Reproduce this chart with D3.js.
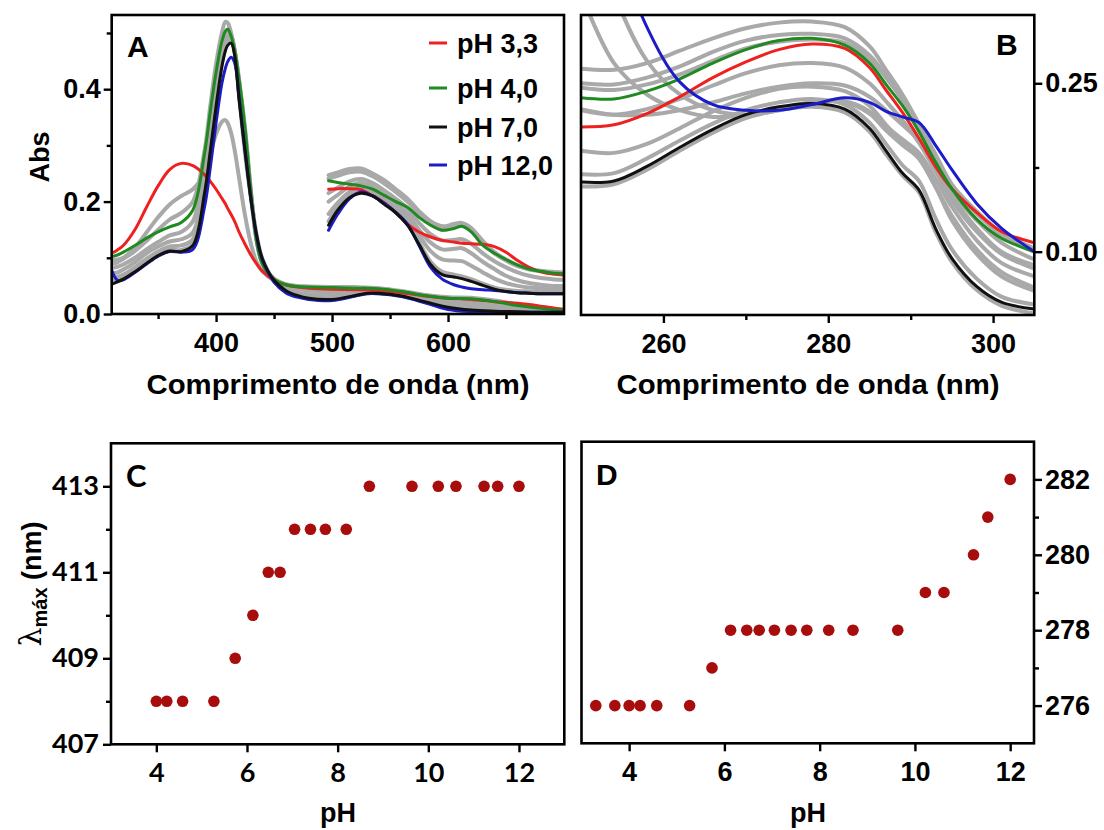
<!DOCTYPE html>
<html><head><meta charset="utf-8">
<script src="https://cdn.jsdelivr.net/npm/d3@7"></script>
<style>body{margin:0;background:#fff} svg{display:block}</style>
</head><body>
<svg id="chart" width="1104" height="830"></svg>
<script>
// ---------- DATA ----------
// Panel A: wavelengths (nm) and absorbance
const wlA = [310,315,320,330,340,350,360,370,380,390,395,400,405,408,410,413,416,420,425,430,435,440,450,460,470,480,500,520,530,540,560,580,600,620,640,660,680,700];
const absA_pH33 = [.108,.114,.122,.150,.190,.228,.257,.268,.264,.248,.236,.222,.206,.196,.188,.177,.165,.145,.124,.105,.089,.076,.060,.052,.048,.046,.044,.043,.043,.042,.038,.032,.028,.026,.022,.019,.014,.008];
const absA_pH40 = [.102,.105,.110,.122,.135,.146,.155,.163,.185,.285,.360,.430,.485,.503,.507,.494,.470,.415,.330,.220,.128,.088,.062,.052,.049,.048,.047,.046,.046,.045,.040,.033,.028,.027,.022,.015,.010,.006];
const absA_pH70 = [.053,.057,.062,.075,.090,.104,.112,.111,.122,.215,.290,.370,.440,.468,.478,.482,.460,.378,.290,.205,.140,.098,.060,.042,.033,.028,.026,.033,.037,.037,.032,.022,.012,.007,.005,.004,.003,.003];
const absA_pH120 = [.078,.060,.061,.074,.089,.103,.111,.110,.115,.190,.260,.340,.410,.437,.449,.457,.447,.382,.290,.205,.138,.096,.057,.038,.030,.026,.024,.032,.036,.036,.031,.020,.008,.004,.003,.003,.003,.003];
const absA_gray = [
  [.095,.097,.100,.118,.145,.172,.195,.210,.222,.250,.285,.320,.342,.345,.340,.322,.292,.240,.175,.125,.092,.076,.060,.052,.049,.048,.046,.046,.046,.045,.040,.033,.029,.027,.022,.016,.011,.007],
  [.090,.092,.098,.112,.130,.150,.168,.180,.200,.290,.370,.445,.500,.520,.518,.500,.470,.415,.330,.220,.130,.090,.063,.053,.050,.049,.048,.048,.047,.046,.041,.034,.030,.029,.024,.017,.011,.007],
  [.082,.084,.088,.100,.115,.128,.140,.146,.165,.260,.340,.420,.480,.500,.504,.495,.468,.412,.325,.218,.130,.090,.060,.048,.044,.042,.040,.042,.043,.042,.037,.028,.022,.020,.016,.012,.009,.006],
  [.072,.074,.079,.092,.108,.120,.129,.133,.145,.240,.320,.400,.465,.490,.497,.493,.468,.410,.320,.215,.132,.092,.058,.044,.038,.035,.034,.038,.040,.040,.035,.025,.017,.014,.011,.009,.007,.005],
  [.063,.066,.070,.083,.098,.111,.120,.122,.133,.228,.305,.385,.455,.480,.489,.490,.466,.395,.295,.210,.138,.095,.058,.042,.035,.031,.030,.035,.038,.038,.033,.023,.014,.010,.008,.006,.005,.004],
  [.056,.059,.064,.077,.092,.106,.114,.114,.124,.218,.294,.375,.446,.475,.485,.490,.468,.385,.285,.207,.140,.098,.060,.042,.033,.028,.026,.033,.037,.037,.032,.022,.012,.007,.005,.004,.003,.003]
];
// Panel A inset (magnified visible band)
const wlI = [497,505,515,525,535,545,555,565,575,585,595,605,612,620,630,640,650,660,670,680,690,700];
const absI_pH33 = [.222,.223,.223,.221,.210,.198,.180,.160,.146,.137,.131,.128,.126,.125,.124,.120,.110,.095,.083,.075,.071,.069];
const absI_pH40 = [.237,.234,.231,.228,.222,.211,.200,.190,.172,.158,.149,.152,.156,.146,.122,.108,.097,.087,.080,.076,.073,.072];
const absI_pH70 = [.158,.185,.207,.215,.210,.195,.180,.158,.124,.088,.070,.066,.063,.058,.051,.044,.040,.038,.037,.036,.036,.036];
const absI_pH120 = [.149,.178,.205,.217,.210,.197,.181,.160,.122,.083,.062,.052,.048,.045,.043,.042,.040,.038,.037,.036,.036,.036];
const absI_gray = [
  [.247,.252,.258,.259,.250,.238,.222,.205,.183,.165,.156,.160,.162,.153,.130,.110,.097,.087,.080,.077,.075,.074],
  [.241,.246,.252,.253,.245,.232,.217,.200,.178,.160,.150,.154,.157,.148,.126,.108,.095,.085,.079,.076,.074,.073],
  [.215,.225,.236,.240,.233,.220,.205,.188,.162,.142,.131,.132,.133,.125,.108,.094,.083,.074,.068,.064,.062,.061],
  [.200,.212,.227,.233,.226,.212,.197,.178,.150,.127,.115,.116,.117,.108,.093,.080,.068,.060,.055,.052,.050,.050],
  [.178,.198,.217,.226,.220,.205,.190,.170,.140,.112,.097,.095,.094,.086,.074,.063,.055,.050,.047,.046,.045,.045],
  [.165,.190,.210,.218,.213,.198,.183,.163,.128,.093,.075,.070,.067,.062,.054,.047,.043,.041,.040,.039,.039,.039]
];
// Panel B: UV band
const wlB = [250,254,258,262,266,270,274,278,282,285,287,289,291,293,295,298,301,305];
const absB_pH33 = [.211,.213,.223,.238,.255,.269,.280,.285,.281,.264,.244,.224,.201,.176,.156,.135,.118,.108];
const absB_pH40 = [.237,.236,.243,.254,.268,.280,.288,.290,.284,.268,.249,.230,.207,.180,.156,.129,.112,.100];
const absB_pH70 = [.162,.163,.176,.193,.209,.222,.229,.232,.227,.210,.190,.170,.155,.121,.094,.069,.055,.049];
const absB_pH120 = [.500,.380,.300,.251,.231,.226,.226,.231,.237,.233,.225,.220,.215,.195,.173,.143,.121,.100];
const absB_gray = [
  [.263,.262,.268,.279,.290,.299,.304,.305,.300,.283,.262,.240,.214,.187,.160,.136,.117,.103],
  [.250,.249,.255,.265,.278,.288,.293,.294,.290,.275,.257,.236,.210,.183,.158,.134,.115,.100],
  [.246,.244,.249,.258,.270,.281,.287,.289,.286,.272,.255,.235,.208,.180,.154,.128,.108,.093],
  [.226,.222,.227,.236,.248,.259,.266,.268,.264,.250,.234,.217,.197,.172,.146,.118,.098,.085],
  [.330,.268,.240,.226,.220,.222,.227,.233,.234,.225,.212,.200,.188,.165,.140,.110,.090,.078],
  [.420,.330,.270,.240,.226,.222,.226,.233,.233,.223,.208,.195,.183,.158,.132,.102,.082,.068],
  [.190,.188,.196,.210,.225,.237,.245,.247,.243,.230,.213,.197,.183,.158,.128,.098,.078,.065],
  [.169,.170,.183,.199,.214,.226,.233,.236,.231,.215,.196,.177,.163,.130,.102,.076,.060,.053],
  [.158,.160,.173,.190,.206,.219,.226,.229,.224,.207,.187,.168,.153,.118,.091,.066,.052,.045],
  [.227,.222,.222,.226,.233,.241,.247,.250,.248,.238,.226,.213,.199,.176,.150,.121,.100,.088]
];
// Panel C and D: lambda max vs pH
const pHC = [4.0,4.23,4.58,5.27,5.74,6.13,6.47,6.73,7.05,7.40,7.73,8.19,8.70,9.64,10.22,10.61,11.23,11.53,12.0];
const lamC = [408,408,408,408,409,410,411,411,412,412,412,412,413,413,413,413,413,413,413];
const pHD = [3.3,3.7,4.0,4.23,4.58,5.27,5.74,6.13,6.47,6.73,7.05,7.40,7.73,8.19,8.70,9.64,10.22,10.61,11.23,11.53,12.0];
const lamD = [276,276,276,276,276,276,277,278,278,278,278,278,278,278,278,278,279,279,280,281,282];
// Legend / labels
const legendNames = ["pH 3,3","pH 4,0","pH 7,0","pH 12,0"];
const colors = ["#ee2020","#1f8a1f","#111111","#1c1cc8"];
const grayColor = "#a9a9a9";
const dotColor = "#a80d0d";
// Ticks
const ticksAx = [400,500,600], minorAx = [350,450,550,650];
const ticksAy = [0,0.2,0.4], minorAy = [0.1,0.3,0.5];
const ticksBx = [260,280,300], minorBx = [270,290];
const ticksBy = [0.10,0.25], minorBy = [0.175];
const ticksCx = [4,6,8,10,12], ticksCy = [407,409,411,413], minorCy = [408,410,412];
const ticksDx = [4,6,8,10,12], ticksDy = [276,278,280,282], minorDy = [277,279,281];

// ---------- DRAW ----------
const svg = d3.select("#chart");
const FA = "'Liberation Sans', Arial, sans-serif";
const FC = "Lato, 'Liberation Sans', sans-serif";

const P = {
  A: {l:111.7, r:564, t:15, b:314},
  B: {l:581, r:1034.3, t:15, b:315},
  C: {l:111, r:564.3, t:443.3, b:744.3},
  D: {l:581.5, r:1034, t:441.7, b:743.3}
};
const xA = d3.scaleLinear().domain([310,700]).range([P.A.l,P.A.r]);
const yA = d3.scaleLinear().domain([0,0.532]).range([P.A.b,P.A.t]);
const xB = d3.scaleLinear().domain([250,305]).range([P.B.l,P.B.r]);
const yB = d3.scaleLinear().domain([0.0436,0.3108]).range([P.B.b,P.B.t]);
const xC = d3.scaleLinear().domain([3,13]).range([P.C.l,P.C.r]);
const yC = d3.scaleLinear().domain([407,414]).range([P.C.b,P.C.t]);
const xD = d3.scaleLinear().domain([3,12.5]).range([P.D.l,P.D.r]);
const yD = d3.scaleLinear().domain([275,283]).range([P.D.b,P.D.t]);

const defs = svg.append("defs");
Object.entries(P).forEach(([k,p])=>{
  defs.append("clipPath").attr("id","clip"+k).append("rect")
    .attr("x",p.l).attr("y",p.t).attr("width",p.r-p.l).attr("height",p.b-p.t);
});

function drawLines(key, xs, ys, wl, series, color, width){
  const g = svg.append("g").attr("clip-path",`url(#clip${key})`);
  const line = d3.line().x((d,i)=>xs(wl[i])).y(d=>ys(d)).curve(d3.curveCatmullRom.alpha(0.5));
  series.forEach(s=>{
    g.append("path").attr("d",line(s)).attr("fill","none")
      .attr("stroke",color).attr("stroke-width",width)
      .attr("stroke-linejoin","round").attr("stroke-linecap","round");
  });
}

// Panel A
drawLines("A", xA, yA, wlA, absA_gray, grayColor, 4);
drawLines("A", xA, yA, wlI, absI_gray, grayColor, 4);
[absA_pH33, absA_pH40, absA_pH120, absA_pH70].forEach((s,i)=>{
  const c = [colors[0],colors[1],colors[3],colors[2]][i];
  drawLines("A", xA, yA, wlA, [s], c, 3);
});
[absI_pH33, absI_pH40, absI_pH120, absI_pH70].forEach((s,i)=>{
  const c = [colors[0],colors[1],colors[3],colors[2]][i];
  drawLines("A", xA, yA, wlI, [s], c, 3);
});
// Panel B
drawLines("B", xB, yB, wlB, absB_gray, grayColor, 4);
[absB_pH33, absB_pH40, absB_pH70, absB_pH120].forEach((s,i)=>{
  const c = [colors[0],colors[1],colors[2],colors[3]][i];
  drawLines("B", xB, yB, wlB, [s], c, 3);
});
// Panels C, D
svg.append("g").selectAll("circle").data(pHC).join("circle")
  .attr("cx",d=>xC(d)).attr("cy",(d,i)=>yC(lamC[i])).attr("r",5.8).attr("fill",dotColor);
svg.append("g").selectAll("circle").data(pHD).join("circle")
  .attr("cx",d=>xD(d)).attr("cy",(d,i)=>yD(lamD[i])).attr("r",5.8).attr("fill",dotColor);

// Frames
Object.values(P).forEach(p=>{
  svg.append("rect").attr("x",p.l).attr("y",p.t).attr("width",p.r-p.l).attr("height",p.b-p.t)
    .attr("fill","none").attr("stroke","#000").attr("stroke-width",2.6);
});

function styleAxis(g, size, fam){
  g.select(".domain").remove();
  g.attr("font-size",null).attr("font-family",null);
  g.selectAll(".tick line").attr("stroke","#000").attr("stroke-width",2.4);
  g.selectAll(".tick text").attr("font-family",fam).attr("font-weight","bold")
    .attr("font-size",size).attr("fill","#000");
}
function axis(gen, tr, size, fam){
  const g = svg.append("g").attr("transform",tr).call(gen);
  styleAxis(g,size,fam); return g;
}
// A axes
axis(d3.axisBottom(xA).tickValues(ticksAx).tickSize(8).tickPadding(11).tickFormat(d3.format("d")), `translate(0,${P.A.b})`, 27, FA);
axis(d3.axisBottom(xA).tickValues(minorAx).tickSize(5).tickFormat(""), `translate(0,${P.A.b})`, 27, FA);
axis(d3.axisLeft(yA).tickValues(ticksAy).tickSize(8).tickPadding(3).tickFormat(d3.format(".1f")), `translate(${P.A.l},0)`, 27, FA);
axis(d3.axisLeft(yA).tickValues(minorAy).tickSize(5).tickFormat(""), `translate(${P.A.l},0)`, 27, FA);
// B axes
axis(d3.axisBottom(xB).tickValues(ticksBx).tickSize(8).tickPadding(11).tickFormat(d3.format("d")), `translate(0,${P.B.b})`, 27, FA);
axis(d3.axisBottom(xB).tickValues(minorBx).tickSize(5).tickFormat(""), `translate(0,${P.B.b})`, 27, FA);
axis(d3.axisRight(yB).tickValues(ticksBy).tickSize(8).tickPadding(3).tickFormat(d3.format(".2f")), `translate(${P.B.r},0)`, 27, FA);
axis(d3.axisRight(yB).tickValues(minorBy).tickSize(5).tickFormat(""), `translate(${P.B.r},0)`, 27, FA);
// C axes
axis(d3.axisBottom(xC).tickValues(ticksCx).tickSize(8).tickPadding(11).tickFormat(d3.format("d")), `translate(0,${P.C.b})`, 27, FC);
axis(d3.axisLeft(yC).tickValues(ticksCy).tickSize(8).tickPadding(4).tickFormat(d3.format("d")), `translate(${P.C.l},0)`, 27, FC);
axis(d3.axisLeft(yC).tickValues(minorCy).tickSize(5).tickFormat(""), `translate(${P.C.l},0)`, 27, FC);
// D axes
axis(d3.axisBottom(xD).tickValues(ticksDx).tickSize(8).tickPadding(11).tickFormat(d3.format("d")), `translate(0,${P.D.b})`, 27, FA);
axis(d3.axisRight(yD).tickValues(ticksDy).tickSize(8).tickPadding(3).tickFormat(d3.format("d")), `translate(${P.D.r},0)`, 27, FA);
axis(d3.axisRight(yD).tickValues(minorDy).tickSize(5).tickFormat(""), `translate(${P.D.r},0)`, 27, FA);

// Titles
function txt(x,y,s,size,fam,opts={}){
  const t = svg.append("text").attr("x",x).attr("y",y).text(s)
    .attr("font-family",fam).attr("font-weight",opts.weight||"bold").attr("font-size",size)
    .attr("text-anchor",opts.anchor||"middle").attr("fill","#000");
  if(opts.len) t.attr("textLength",opts.len).attr("lengthAdjust","spacingAndGlyphs");
  if(opts.rot) t.attr("transform",`rotate(-90,${x},${y})`);
  return t;
}
txt(338,394,"Comprimento de onda (nm)",28,FA,{len:383});
txt(808,394,"Comprimento de onda (nm)",28,FA,{len:383});
txt(338,822,"pH",27,FA);
txt(808,822,"pH",27,FA);
txt(49,157,"Abs",27,FA,{rot:true});
// lambda max label
const lt = svg.append("text").attr("transform","translate(41,584) rotate(-90)")
  .attr("text-anchor","middle").attr("fill","#000").attr("font-family",FA);
lt.append("tspan").text("λ").attr("font-size",30).attr("font-weight","normal").attr("font-family","'DejaVu Serif', serif");
lt.append("tspan").text("máx").attr("font-size",20).attr("font-weight","bold").attr("dy",6);
lt.append("tspan").text(" (nm)").attr("font-size",27).attr("font-weight","bold").attr("dy",-6);

// Panel letters
txt(127,57,"A",30,FA,{anchor:"start"});
txt(996,55,"B",30,FA,{anchor:"start"});
txt(126,487,"C",31,FC,{anchor:"start"});
txt(596,485,"D",30,FA,{anchor:"start"});

// Legend
const legendY = [43,88,127,165];
legendNames.forEach((n,i)=>{
  svg.append("line").attr("x1",429).attr("x2",447).attr("y1",legendY[i]).attr("y2",legendY[i])
    .attr("stroke",colors[i]).attr("stroke-width",3);
  svg.append("text").attr("x",457).attr("y",legendY[i]+9.5).text(n)
    .attr("font-family",FA).attr("font-weight","bold").attr("font-size",27).attr("fill","#000");
});
</script>
</body></html>
